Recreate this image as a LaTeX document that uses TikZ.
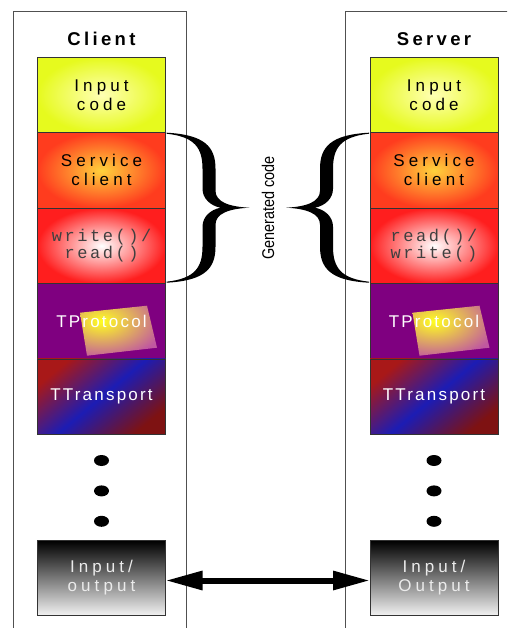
\documentclass[tikz,border=0pt]{standalone}
\usepackage{fontspec}
\setmainfont{Liberation Sans}
\setmonofont{Liberation Mono}
\newfontfamily\layerfont[LetterSpace=24]{Liberation Sans}
\newfontfamily\protfont[LetterSpace=13]{Liberation Sans}
\newfontfamily\callfont[LetterSpace=15]{Liberation Mono}
\newfontfamily\headfont[LetterSpace=18]{Liberation Sans}
\newfontfamily\notefont[FakeStretch=0.85]{Liberation Sans}
\usetikzlibrary{arrows.meta,positioning,shapes.geometric}

\definecolor{inputlight}{HTML}{FFFFB4}
\definecolor{inputyellow}{HTML}{E6FA1E}
\definecolor{svcinner}{HTML}{FFD23C}
\definecolor{svcouter}{HTML}{FF3C1E}
\definecolor{rwouter}{HTML}{FF1E1E}
\definecolor{protpurple}{HTML}{7F0080}
\definecolor{glowcore}{HTML}{FFFF20}
\definecolor{glowedge}{HTML}{C058A0}
\definecolor{transred}{HTML}{A81818}
\definecolor{transblue}{HTML}{1C1CB4}
\definecolor{framegray}{HTML}{505050}

\tikzset{codebrace/.pic={
  \fill (0,0) .. controls (38,2) and (49,14) .. (49,36) -- (49,58)
    .. controls (49,69) and (62,74) .. (83,75)
    .. controls (62,76) and (49,81) .. (49,92) -- (49,114)
    .. controls (49,136) and (38,148) .. (0,150) -- (0,149)
    .. controls (28,146) and (36,135) .. (36,114) -- (36,94)
    .. controls (36,84) and (44,77) .. (54,75)
    .. controls (44,73) and (36,66) .. (36,56) -- (36,36)
    .. controls (36,15) and (28,4) .. (0,1) -- cycle;
}}

\begin{document}
\begin{tikzpicture}[x=1pt,y=-1pt,node distance=0pt,
  layer/.style={draw=black!80,line width=0.6pt,minimum width=128pt,minimum height=75.4pt,
    inner sep=0pt,outer sep=0pt,align=center,font=\layerfont\fontsize{17}{19}\selectfont},
  inputbox/.style={inner color=inputlight,outer color=inputyellow},
  svcbox/.style={inner color=svcinner,outer color=svcouter},
  rwbox/.style={inner color=white,outer color=rwouter,text=black!75,
    font=\callfont\fontsize{17}{17}\selectfont},
  protbox/.style={fill=protpurple,text=white,font=\protfont\fontsize{17}{19}\selectfont,
    path picture={\shade[inner color=glowcore,outer color=glowedge]
      ([xshift=-21.5pt,yshift=8.5pt]path picture bounding box.center)
      -- ([xshift=45.5pt,yshift=15.5pt]path picture bounding box.center)
      -- ([xshift=55.5pt,yshift=-26.5pt]path picture bounding box.center)
      -- ([xshift=-14.5pt,yshift=-34.5pt]path picture bounding box.center) -- cycle;}},
  transbox/.style={top color=transred,bottom color=transred!75!black,middle color=transblue,
    shading angle=40,text=white,font=\protfont\fontsize{17}{19}\selectfont},
  iobox/.style={top color=black,bottom color=black!5,text=white!92!black,minimum height=75pt},
  dot/.style={ellipse,fill=black,minimum width=15pt,minimum height=11pt,inner sep=0pt},
  headtitle/.style={font=\headfont\bfseries\fontsize{18.5}{19}\selectfont},
  note/.style={rotate=90,font=\notefont\fontsize{17}{17}\selectfont},
  frame/.style={draw=framegray,line width=0.8pt},
  link/.style={{Triangle[length=37pt,width=18pt]}-{Triangle[length=37pt,width=18pt]},line width=6pt}]

\useasboundingbox (0,0) rectangle (507,628);
\clip (0,0) rectangle (507,628);

% outer frames
\draw[frame] (13,11) rectangle (186,640);
\draw[frame] (345,11) rectangle (520,640);

% client side
\node[headtitle] (client) at (101.5,39) {Client};
\node[layer,inputbox] (cin) at (101.5,95) {Input\\code};
\node[layer,svcbox,below=of cin] (csvc) {Service\\client};
\node[layer,rwbox,below=of csvc] (crw) {write()/\\read()};
\node[layer,protbox,below=of crw] (cprot) {TProtocol};
\node[layer,transbox,below=of cprot] (ctrans) {TTransport};
\node[dot,below=20.5pt of ctrans] (cdot1) {};
\node[dot,below=19pt of cdot1] (cdot2) {};
\node[dot,below=19pt of cdot2] (cdot3) {};
\node[layer,iobox,below=13.5pt of cdot3] (cdev) {Input/\\output};

% server side
\node[headtitle] (server) at (434,39) {Server};
\node[layer,inputbox] (sin) at (434,95) {Input\\code};
\node[layer,svcbox,below=of sin] (ssvc) {Service\\client};
\node[layer,rwbox,below=of ssvc] (srw) {read()/\\write()};
\node[layer,protbox,below=of srw] (sprot) {TProtocol};
\node[layer,transbox,below=of sprot] (strans) {TTransport};
\node[dot,below=20.5pt of strans] (sdot1) {};
\node[dot,below=19pt of sdot1] (sdot2) {};
\node[dot,below=19pt of sdot2] (sdot3) {};
\node[layer,iobox,below=13.5pt of sdot3] (sdev) {Input/\\Output};

% generated code
\pic at ([xshift=1pt]csvc.north east) {codebrace};
\pic[xscale=-1] at ([xshift=-1pt]ssvc.north west) {codebrace};
\node[note] (gen) at (268,208) {Generated code};

\draw[link] ([yshift=-2.5pt]cdev.east) -- ([yshift=-2.5pt]sdev.west);
\end{tikzpicture}
\end{document}
